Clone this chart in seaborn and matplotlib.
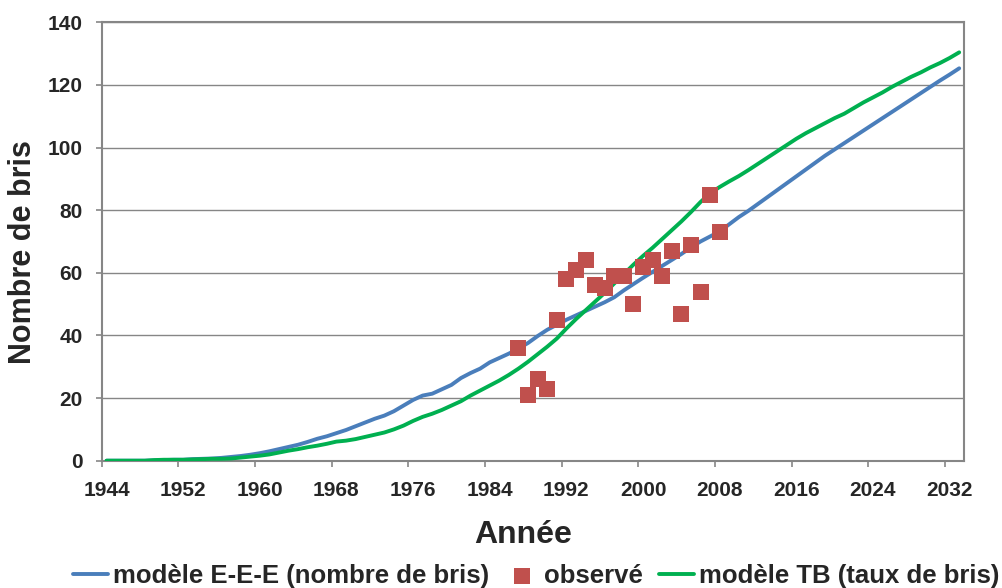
import pandas as pd
import seaborn as sns
import matplotlib.pyplot as plt

# one value per year, 1944 .. 2033
years = list(range(1944, 2034))
eee_values = [0, 0, 0, 0, 0.0, 0.1, 0.2, 0.3, 0.3, 0.5,
              0.6, 0.7, 0.9, 1.2, 1.5, 1.9, 2.4, 3.0, 3.7, 4.4,
              5.1, 6.0, 7.0, 7.8, 8.8, 9.8, 11.0, 12.2, 13.4, 14.4,
              15.8, 17.6, 19.4, 20.8, 21.4, 22.8, 24.2, 26.4, 28.0, 29.4,
              31.4, 32.8, 34.2, 35.8, 37.6, 39.8, 41.8, 43.4, 45.0, 46.4,
              47.8, 49.2, 50.6, 52.2, 54.4, 56.4, 58.4, 60.3, 62.2, 64.1,
              66.0, 68.1, 70.0, 71.6, 73.2, 75.5, 77.8, 79.8, 82.0, 84.2,
              86.4, 88.6, 90.8, 93.0, 95.2, 97.4, 99.4, 101.4, 103.4, 105.4,
              107.4, 109.4, 111.4, 113.4, 115.4, 117.4, 119.4, 121.4, 123.3, 125.3]
tb_values = [0, 0, 0, 0, 0, 0.2, 0.3, 0.3, 0.3, 0.4,
             0.5, 0.6, 0.6, 0.7, 1.0, 1.3, 1.6, 2.0, 2.6, 3.2,
             3.7, 4.3, 4.8, 5.4, 6.1, 6.4, 6.9, 7.6, 8.3, 9.0,
             10.0, 11.2, 12.7, 14.0, 15.0, 16.2, 17.6, 19.0, 20.8, 22.4,
             24.0, 25.6, 27.4, 29.4, 31.6, 34.0, 36.4, 39.0, 42.2, 45.2,
             48.0, 50.8, 53.6, 56.6, 59.6, 62.6, 65.4, 68.0, 70.8, 73.6,
             76.4, 79.4, 82.6, 85.4, 87.4, 89.2, 90.9, 92.8, 94.8, 96.8,
             98.8, 100.8, 102.8, 104.6, 106.2, 107.8, 109.4, 110.8, 112.6, 114.4,
             116.0, 117.6, 119.4, 121.0, 122.6, 124.0, 125.6, 127.0, 128.6, 130.4]

obs_years = list(range(1987, 2009))
obs_values = [36, 21, 26, 23, 45, 58, 61, 64, 56, 55, 59,
              59, 50, 62, 64, 59, 67, 47, 69, 54, 85, 73]

tick_years = list(range(1944, 2033, 8))
y_ticks = list(range(0, 141, 20))

BLUE = '#4A7EBB'
GREEN = '#00B050'
RED = '#C0504D'
GREY = '#868686'

sns.set_theme(style="white")
plt.rcParams['font.family'] = ['Liberation Sans', 'DejaVu Sans']
plt.rcParams['font.weight'] = 'bold'

# excel category axis -> each year is drawn in the middle of its slot
df = pd.DataFrame({'x': [y + 0.5 for y in years], 'eee': eee_values, 'tb': tb_values})
obs = pd.DataFrame({'x': [y + 0.5 for y in obs_years], 'n': obs_values})

fig = plt.figure(figsize=(10.03, 5.88), dpi=100)
ax = fig.add_axes([0.1014, 0.2165, 0.8597, 0.7456])

sns.lineplot(data=df, x='x', y='eee', color=BLUE, lw=2.8,
             label='modèle E-E-E (nombre de bris)', ax=ax, zorder=2)
sns.lineplot(data=df, x='x', y='tb', color=GREEN, lw=2.8,
             label='modèle TB (taux de bris)', ax=ax, zorder=3)
sns.scatterplot(data=obs, x='x', y='n', marker='s', s=118, color=RED,
                linewidth=0, label='observé', ax=ax, zorder=4)

handles, labels = ax.get_legend_handles_labels()
if ax.get_legend() is not None:
    ax.get_legend().remove()
order = ['modèle E-E-E (nombre de bris)', 'observé', 'modèle TB (taux de bris)']
hmap = dict(zip(labels, handles))

ax.set_xlim(1944, 2034)
ax.set_ylim(0, 140)
ax.set_yticks(y_ticks)
ax.set_xticks(tick_years)
ax.set_xticklabels([])
ax.set_xticks([t + 0.5 for t in tick_years], minor=True)
ax.set_xticklabels([str(t) for t in tick_years], minor=True)
ax.set_xlabel('')
ax.set_ylabel('')

ax.yaxis.grid(True, color=GREY, lw=1.0)
ax.xaxis.grid(False)
ax.set_axisbelow(True)
for s in ax.spines.values():
    s.set_color(GREY)
    s.set_linewidth(1.5)

ax.tick_params(axis='y', direction='out', length=4, width=1.2, color=GREY,
               pad=9.5, labelsize=15, left=True)
ax.tick_params(axis='x', which='major', direction='out', length=4, width=1.2,
               color=GREY, bottom=True)
ax.tick_params(axis='x', which='minor', length=0, pad=14.5, labelsize=15, bottom=True)

fig.text(23 / 1003, 1 - 252.5 / 588, 'Nombre de bris', rotation=90,
         ha='center', va='center', fontsize=22, fontweight='bold')
fig.text(523 / 1003, 1 - 535 / 588, 'Année', ha='center', va='center',
         fontsize=23, fontweight='bold')

fig.legend([hmap[l] for l in order], order, loc='center left',
           bbox_to_anchor=(0.0725, 0.0204), ncol=3, frameon=False,
           fontsize=18.5, handlelength=1.37, handletextpad=0.19,
           columnspacing=0.6, borderpad=0, borderaxespad=0, markerscale=1.1)

fig.savefig('out.png', dpi=100)
